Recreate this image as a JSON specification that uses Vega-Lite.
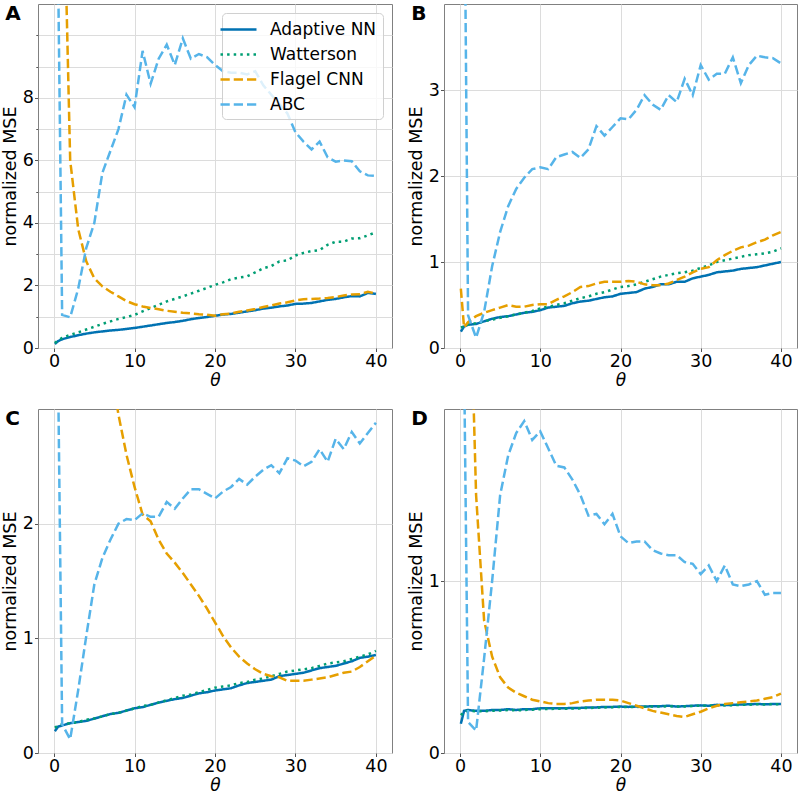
{
  "$schema": "https://vega.github.io/schema/vega-lite/v6.json",
  "padding": {"left": 0, "top": 3, "right": 0, "bottom": 0},
  "background": "white",
  "datasets": {
    "A": [
      {"t":0.1,"Adaptive NN":0.13,"Watterson":0.16,"Flagel CNN":80,"ABC":60},
      {"t":0.5,"Adaptive NN":0.22,"Watterson":0.25,"Flagel CNN":40,"ABC":12},
      {"t":1,"Adaptive NN":0.28,"Watterson":0.32,"Flagel CNN":17,"ABC":1.06},
      {"t":2,"Adaptive NN":0.35,"Watterson":0.42,"Flagel CNN":6.0,"ABC":0.98},
      {"t":3,"Adaptive NN":0.41,"Watterson":0.5,"Flagel CNN":3.8,"ABC":1.9},
      {"t":4,"Adaptive NN":0.46,"Watterson":0.59,"Flagel CNN":2.77,"ABC":3.2},
      {"t":5,"Adaptive NN":0.5,"Watterson":0.68,"Flagel CNN":2.23,"ABC":4.0},
      {"t":6,"Adaptive NN":0.53,"Watterson":0.77,"Flagel CNN":1.97,"ABC":5.6},
      {"t":7,"Adaptive NN":0.56,"Watterson":0.85,"Flagel CNN":1.8,"ABC":6.3},
      {"t":8,"Adaptive NN":0.58,"Watterson":0.93,"Flagel CNN":1.65,"ABC":7.0},
      {"t":9,"Adaptive NN":0.61,"Watterson":0.99,"Flagel CNN":1.5,"ABC":8.1},
      {"t":10,"Adaptive NN":0.64,"Watterson":1.06,"Flagel CNN":1.4,"ABC":7.7},
      {"t":11,"Adaptive NN":0.68,"Watterson":1.17,"Flagel CNN":1.33,"ABC":9.5},
      {"t":12,"Adaptive NN":0.72,"Watterson":1.28,"Flagel CNN":1.28,"ABC":8.45},
      {"t":13,"Adaptive NN":0.76,"Watterson":1.38,"Flagel CNN":1.24,"ABC":9.25},
      {"t":14,"Adaptive NN":0.8,"Watterson":1.49,"Flagel CNN":1.19,"ABC":9.7},
      {"t":15,"Adaptive NN":0.83,"Watterson":1.57,"Flagel CNN":1.16,"ABC":9.05},
      {"t":16,"Adaptive NN":0.87,"Watterson":1.65,"Flagel CNN":1.13,"ABC":9.9},
      {"t":17,"Adaptive NN":0.92,"Watterson":1.74,"Flagel CNN":1.11,"ABC":9.25},
      {"t":18,"Adaptive NN":0.96,"Watterson":1.83,"Flagel CNN":1.08,"ABC":9.4},
      {"t":19,"Adaptive NN":0.99,"Watterson":1.92,"Flagel CNN":1.06,"ABC":9.3},
      {"t":20,"Adaptive NN":1.03,"Watterson":2.02,"Flagel CNN":1.03,"ABC":9.05},
      {"t":21,"Adaptive NN":1.07,"Watterson":2.1,"Flagel CNN":1.08,"ABC":8.85},
      {"t":22,"Adaptive NN":1.09,"Watterson":2.2,"Flagel CNN":1.1,"ABC":8.8},
      {"t":23,"Adaptive NN":1.13,"Watterson":2.25,"Flagel CNN":1.16,"ABC":8.8},
      {"t":24,"Adaptive NN":1.17,"Watterson":2.29,"Flagel CNN":1.2,"ABC":8.75},
      {"t":25,"Adaptive NN":1.21,"Watterson":2.42,"Flagel CNN":1.25,"ABC":8.85},
      {"t":26,"Adaptive NN":1.26,"Watterson":2.55,"Flagel CNN":1.31,"ABC":8.4},
      {"t":27,"Adaptive NN":1.29,"Watterson":2.62,"Flagel CNN":1.36,"ABC":8.1},
      {"t":28,"Adaptive NN":1.33,"Watterson":2.77,"Flagel CNN":1.42,"ABC":7.8},
      {"t":29,"Adaptive NN":1.36,"Watterson":2.8,"Flagel CNN":1.46,"ABC":7.5},
      {"t":30,"Adaptive NN":1.41,"Watterson":2.96,"Flagel CNN":1.52,"ABC":6.9},
      {"t":31,"Adaptive NN":1.42,"Watterson":3.04,"Flagel CNN":1.56,"ABC":6.6},
      {"t":32,"Adaptive NN":1.44,"Watterson":3.1,"Flagel CNN":1.57,"ABC":6.35},
      {"t":33,"Adaptive NN":1.49,"Watterson":3.13,"Flagel CNN":1.58,"ABC":6.6},
      {"t":34,"Adaptive NN":1.54,"Watterson":3.3,"Flagel CNN":1.6,"ABC":6.1},
      {"t":35,"Adaptive NN":1.57,"Watterson":3.4,"Flagel CNN":1.63,"ABC":5.96},
      {"t":36,"Adaptive NN":1.62,"Watterson":3.4,"Flagel CNN":1.68,"ABC":6.0},
      {"t":37,"Adaptive NN":1.66,"Watterson":3.5,"Flagel CNN":1.71,"ABC":5.97},
      {"t":38,"Adaptive NN":1.65,"Watterson":3.51,"Flagel CNN":1.72,"ABC":5.65},
      {"t":39,"Adaptive NN":1.76,"Watterson":3.6,"Flagel CNN":1.8,"ABC":5.52},
      {"t":40,"Adaptive NN":1.73,"Watterson":3.7,"Flagel CNN":1.74,"ABC":5.5}
    ],
    "B": [
      {"t":0.1,"Adaptive NN":0.19,"Watterson":0.24,"Flagel CNN":0.69,"ABC":50},
      {"t":0.5,"Adaptive NN":0.25,"Watterson":0.25,"Flagel CNN":0.24,"ABC":6},
      {"t":1,"Adaptive NN":0.27,"Watterson":0.27,"Flagel CNN":0.3,"ABC":0.38},
      {"t":2,"Adaptive NN":0.28,"Watterson":0.29,"Flagel CNN":0.37,"ABC":0.12},
      {"t":3,"Adaptive NN":0.31,"Watterson":0.31,"Flagel CNN":0.41,"ABC":0.42},
      {"t":4,"Adaptive NN":0.34,"Watterson":0.33,"Flagel CNN":0.44,"ABC":0.95},
      {"t":5,"Adaptive NN":0.36,"Watterson":0.35,"Flagel CNN":0.47,"ABC":1.35},
      {"t":6,"Adaptive NN":0.37,"Watterson":0.37,"Flagel CNN":0.5,"ABC":1.65},
      {"t":7,"Adaptive NN":0.39,"Watterson":0.39,"Flagel CNN":0.48,"ABC":1.85},
      {"t":8,"Adaptive NN":0.41,"Watterson":0.41,"Flagel CNN":0.48,"ABC":1.98},
      {"t":9,"Adaptive NN":0.42,"Watterson":0.43,"Flagel CNN":0.5,"ABC":2.08},
      {"t":10,"Adaptive NN":0.44,"Watterson":0.46,"Flagel CNN":0.51,"ABC":2.1},
      {"t":11,"Adaptive NN":0.47,"Watterson":0.48,"Flagel CNN":0.51,"ABC":2.08},
      {"t":12,"Adaptive NN":0.48,"Watterson":0.5,"Flagel CNN":0.56,"ABC":2.22},
      {"t":13,"Adaptive NN":0.49,"Watterson":0.52,"Flagel CNN":0.6,"ABC":2.25},
      {"t":14,"Adaptive NN":0.52,"Watterson":0.55,"Flagel CNN":0.65,"ABC":2.28},
      {"t":15,"Adaptive NN":0.54,"Watterson":0.58,"Flagel CNN":0.71,"ABC":2.21},
      {"t":16,"Adaptive NN":0.55,"Watterson":0.6,"Flagel CNN":0.72,"ABC":2.31},
      {"t":17,"Adaptive NN":0.57,"Watterson":0.63,"Flagel CNN":0.75,"ABC":2.58},
      {"t":18,"Adaptive NN":0.59,"Watterson":0.65,"Flagel CNN":0.77,"ABC":2.47},
      {"t":19,"Adaptive NN":0.6,"Watterson":0.68,"Flagel CNN":0.77,"ABC":2.57},
      {"t":20,"Adaptive NN":0.63,"Watterson":0.71,"Flagel CNN":0.77,"ABC":2.67},
      {"t":21,"Adaptive NN":0.64,"Watterson":0.72,"Flagel CNN":0.78,"ABC":2.66},
      {"t":22,"Adaptive NN":0.65,"Watterson":0.74,"Flagel CNN":0.77,"ABC":2.77},
      {"t":23,"Adaptive NN":0.69,"Watterson":0.77,"Flagel CNN":0.74,"ABC":2.94},
      {"t":24,"Adaptive NN":0.71,"Watterson":0.8,"Flagel CNN":0.73,"ABC":2.83},
      {"t":25,"Adaptive NN":0.74,"Watterson":0.83,"Flagel CNN":0.73,"ABC":2.77},
      {"t":26,"Adaptive NN":0.74,"Watterson":0.85,"Flagel CNN":0.75,"ABC":2.94},
      {"t":27,"Adaptive NN":0.77,"Watterson":0.87,"Flagel CNN":0.79,"ABC":2.86},
      {"t":28,"Adaptive NN":0.77,"Watterson":0.88,"Flagel CNN":0.83,"ABC":3.13},
      {"t":29,"Adaptive NN":0.81,"Watterson":0.9,"Flagel CNN":0.88,"ABC":2.94},
      {"t":30,"Adaptive NN":0.83,"Watterson":0.93,"Flagel CNN":0.92,"ABC":3.29},
      {"t":31,"Adaptive NN":0.85,"Watterson":0.96,"Flagel CNN":0.94,"ABC":3.12},
      {"t":32,"Adaptive NN":0.88,"Watterson":1.0,"Flagel CNN":1.02,"ABC":3.19},
      {"t":33,"Adaptive NN":0.89,"Watterson":1.02,"Flagel CNN":1.08,"ABC":3.19},
      {"t":34,"Adaptive NN":0.9,"Watterson":1.04,"Flagel CNN":1.13,"ABC":3.38},
      {"t":35,"Adaptive NN":0.92,"Watterson":1.06,"Flagel CNN":1.17,"ABC":3.08},
      {"t":36,"Adaptive NN":0.93,"Watterson":1.08,"Flagel CNN":1.19,"ABC":3.29},
      {"t":37,"Adaptive NN":0.94,"Watterson":1.09,"Flagel CNN":1.23,"ABC":3.4},
      {"t":38,"Adaptive NN":0.96,"Watterson":1.1,"Flagel CNN":1.26,"ABC":3.38},
      {"t":39,"Adaptive NN":0.98,"Watterson":1.12,"Flagel CNN":1.31,"ABC":3.37},
      {"t":40,"Adaptive NN":1.0,"Watterson":1.16,"Flagel CNN":1.35,"ABC":3.31}
    ],
    "C": [
      {"t":0.1,"Adaptive NN":0.19,"Watterson":0.22,"Flagel CNN":40,"ABC":50},
      {"t":0.5,"Adaptive NN":0.23,"Watterson":0.24,"Flagel CNN":25,"ABC":3.3},
      {"t":1,"Adaptive NN":0.24,"Watterson":0.25,"Flagel CNN":15,"ABC":0.25},
      {"t":2,"Adaptive NN":0.26,"Watterson":0.26,"Flagel CNN":9,"ABC":0.12},
      {"t":3,"Adaptive NN":0.27,"Watterson":0.27,"Flagel CNN":6.5,"ABC":0.55},
      {"t":4,"Adaptive NN":0.28,"Watterson":0.29,"Flagel CNN":5,"ABC":1.02},
      {"t":5,"Adaptive NN":0.3,"Watterson":0.3,"Flagel CNN":4.2,"ABC":1.47},
      {"t":6,"Adaptive NN":0.32,"Watterson":0.32,"Flagel CNN":3.8,"ABC":1.7},
      {"t":7,"Adaptive NN":0.34,"Watterson":0.34,"Flagel CNN":3.4,"ABC":1.86},
      {"t":8,"Adaptive NN":0.35,"Watterson":0.35,"Flagel CNN":2.95,"ABC":2.0},
      {"t":9,"Adaptive NN":0.37,"Watterson":0.37,"Flagel CNN":2.6,"ABC":2.04},
      {"t":10,"Adaptive NN":0.39,"Watterson":0.39,"Flagel CNN":2.32,"ABC":2.03},
      {"t":11,"Adaptive NN":0.4,"Watterson":0.41,"Flagel CNN":2.08,"ABC":2.09},
      {"t":12,"Adaptive NN":0.42,"Watterson":0.42,"Flagel CNN":2.02,"ABC":2.06},
      {"t":13,"Adaptive NN":0.44,"Watterson":0.44,"Flagel CNN":1.86,"ABC":2.06},
      {"t":14,"Adaptive NN":0.455,"Watterson":0.46,"Flagel CNN":1.74,"ABC":2.19},
      {"t":15,"Adaptive NN":0.47,"Watterson":0.48,"Flagel CNN":1.66,"ABC":2.13},
      {"t":16,"Adaptive NN":0.48,"Watterson":0.5,"Flagel CNN":1.57,"ABC":2.22},
      {"t":17,"Adaptive NN":0.5,"Watterson":0.51,"Flagel CNN":1.47,"ABC":2.3},
      {"t":18,"Adaptive NN":0.52,"Watterson":0.53,"Flagel CNN":1.37,"ABC":2.3},
      {"t":19,"Adaptive NN":0.53,"Watterson":0.55,"Flagel CNN":1.26,"ABC":2.26},
      {"t":20,"Adaptive NN":0.545,"Watterson":0.57,"Flagel CNN":1.14,"ABC":2.22},
      {"t":21,"Adaptive NN":0.555,"Watterson":0.58,"Flagel CNN":1.02,"ABC":2.28},
      {"t":22,"Adaptive NN":0.565,"Watterson":0.59,"Flagel CNN":0.92,"ABC":2.32},
      {"t":23,"Adaptive NN":0.59,"Watterson":0.61,"Flagel CNN":0.84,"ABC":2.39},
      {"t":24,"Adaptive NN":0.61,"Watterson":0.62,"Flagel CNN":0.78,"ABC":2.34},
      {"t":25,"Adaptive NN":0.62,"Watterson":0.64,"Flagel CNN":0.73,"ABC":2.41},
      {"t":26,"Adaptive NN":0.63,"Watterson":0.65,"Flagel CNN":0.69,"ABC":2.47},
      {"t":27,"Adaptive NN":0.64,"Watterson":0.67,"Flagel CNN":0.67,"ABC":2.51},
      {"t":28,"Adaptive NN":0.67,"Watterson":0.69,"Flagel CNN":0.66,"ABC":2.44},
      {"t":29,"Adaptive NN":0.68,"Watterson":0.71,"Flagel CNN":0.63,"ABC":2.57},
      {"t":30,"Adaptive NN":0.69,"Watterson":0.72,"Flagel CNN":0.63,"ABC":2.55},
      {"t":31,"Adaptive NN":0.7,"Watterson":0.73,"Flagel CNN":0.63,"ABC":2.5},
      {"t":32,"Adaptive NN":0.72,"Watterson":0.74,"Flagel CNN":0.64,"ABC":2.54},
      {"t":33,"Adaptive NN":0.74,"Watterson":0.76,"Flagel CNN":0.65,"ABC":2.65},
      {"t":34,"Adaptive NN":0.75,"Watterson":0.78,"Flagel CNN":0.66,"ABC":2.54},
      {"t":35,"Adaptive NN":0.76,"Watterson":0.79,"Flagel CNN":0.68,"ABC":2.74},
      {"t":36,"Adaptive NN":0.78,"Watterson":0.8,"Flagel CNN":0.7,"ABC":2.65},
      {"t":37,"Adaptive NN":0.8,"Watterson":0.82,"Flagel CNN":0.71,"ABC":2.8},
      {"t":38,"Adaptive NN":0.83,"Watterson":0.84,"Flagel CNN":0.75,"ABC":2.7},
      {"t":39,"Adaptive NN":0.84,"Watterson":0.86,"Flagel CNN":0.8,"ABC":2.79},
      {"t":40,"Adaptive NN":0.855,"Watterson":0.89,"Flagel CNN":0.85,"ABC":2.88}
    ],
    "D": [
      {"t":0.1,"Adaptive NN":0.17,"Watterson":0.22,"Flagel CNN":20,"ABC":40},
      {"t":0.5,"Adaptive NN":0.245,"Watterson":0.24,"Flagel CNN":8,"ABC":2.3},
      {"t":1,"Adaptive NN":0.25,"Watterson":0.245,"Flagel CNN":3.2,"ABC":0.18},
      {"t":2,"Adaptive NN":0.245,"Watterson":0.243,"Flagel CNN":1.5,"ABC":0.13},
      {"t":3,"Adaptive NN":0.245,"Watterson":0.243,"Flagel CNN":0.77,"ABC":0.55},
      {"t":4,"Adaptive NN":0.25,"Watterson":0.245,"Flagel CNN":0.56,"ABC":1.0},
      {"t":5,"Adaptive NN":0.25,"Watterson":0.247,"Flagel CNN":0.44,"ABC":1.5},
      {"t":6,"Adaptive NN":0.255,"Watterson":0.25,"Flagel CNN":0.38,"ABC":1.73},
      {"t":7,"Adaptive NN":0.25,"Watterson":0.248,"Flagel CNN":0.35,"ABC":1.86},
      {"t":8,"Adaptive NN":0.255,"Watterson":0.25,"Flagel CNN":0.33,"ABC":1.93},
      {"t":9,"Adaptive NN":0.255,"Watterson":0.252,"Flagel CNN":0.31,"ABC":1.82},
      {"t":10,"Adaptive NN":0.26,"Watterson":0.255,"Flagel CNN":0.3,"ABC":1.87},
      {"t":11,"Adaptive NN":0.26,"Watterson":0.256,"Flagel CNN":0.29,"ABC":1.77},
      {"t":12,"Adaptive NN":0.26,"Watterson":0.257,"Flagel CNN":0.285,"ABC":1.67},
      {"t":13,"Adaptive NN":0.26,"Watterson":0.257,"Flagel CNN":0.285,"ABC":1.66},
      {"t":14,"Adaptive NN":0.262,"Watterson":0.258,"Flagel CNN":0.29,"ABC":1.59},
      {"t":15,"Adaptive NN":0.262,"Watterson":0.26,"Flagel CNN":0.3,"ABC":1.5},
      {"t":16,"Adaptive NN":0.265,"Watterson":0.262,"Flagel CNN":0.305,"ABC":1.38},
      {"t":17,"Adaptive NN":0.265,"Watterson":0.263,"Flagel CNN":0.31,"ABC":1.39},
      {"t":18,"Adaptive NN":0.268,"Watterson":0.265,"Flagel CNN":0.31,"ABC":1.33},
      {"t":19,"Adaptive NN":0.268,"Watterson":0.266,"Flagel CNN":0.31,"ABC":1.39},
      {"t":20,"Adaptive NN":0.27,"Watterson":0.268,"Flagel CNN":0.305,"ABC":1.26},
      {"t":21,"Adaptive NN":0.268,"Watterson":0.267,"Flagel CNN":0.29,"ABC":1.22},
      {"t":22,"Adaptive NN":0.27,"Watterson":0.268,"Flagel CNN":0.275,"ABC":1.23},
      {"t":23,"Adaptive NN":0.27,"Watterson":0.269,"Flagel CNN":0.26,"ABC":1.23},
      {"t":24,"Adaptive NN":0.272,"Watterson":0.27,"Flagel CNN":0.245,"ABC":1.18},
      {"t":25,"Adaptive NN":0.272,"Watterson":0.27,"Flagel CNN":0.235,"ABC":1.16},
      {"t":26,"Adaptive NN":0.275,"Watterson":0.272,"Flagel CNN":0.225,"ABC":1.15},
      {"t":27,"Adaptive NN":0.27,"Watterson":0.27,"Flagel CNN":0.215,"ABC":1.15},
      {"t":28,"Adaptive NN":0.272,"Watterson":0.271,"Flagel CNN":0.21,"ABC":1.11},
      {"t":29,"Adaptive NN":0.275,"Watterson":0.273,"Flagel CNN":0.225,"ABC":1.1},
      {"t":30,"Adaptive NN":0.277,"Watterson":0.275,"Flagel CNN":0.24,"ABC":1.04},
      {"t":31,"Adaptive NN":0.275,"Watterson":0.275,"Flagel CNN":0.26,"ABC":1.09},
      {"t":32,"Adaptive NN":0.28,"Watterson":0.277,"Flagel CNN":0.275,"ABC":1.0},
      {"t":33,"Adaptive NN":0.278,"Watterson":0.277,"Flagel CNN":0.285,"ABC":1.09},
      {"t":34,"Adaptive NN":0.28,"Watterson":0.278,"Flagel CNN":0.29,"ABC":0.98},
      {"t":35,"Adaptive NN":0.282,"Watterson":0.28,"Flagel CNN":0.295,"ABC":0.97},
      {"t":36,"Adaptive NN":0.283,"Watterson":0.281,"Flagel CNN":0.3,"ABC":0.98},
      {"t":37,"Adaptive NN":0.285,"Watterson":0.283,"Flagel CNN":0.305,"ABC":1.0},
      {"t":38,"Adaptive NN":0.283,"Watterson":0.282,"Flagel CNN":0.315,"ABC":0.92},
      {"t":39,"Adaptive NN":0.285,"Watterson":0.284,"Flagel CNN":0.325,"ABC":0.93},
      {"t":40,"Adaptive NN":0.285,"Watterson":0.284,"Flagel CNN":0.345,"ABC":0.93}
    ]
  },
  "spacing": 19,
  "vconcat": [
    {
      "spacing": 13,
      "hconcat": [
        {
          "data": {"name": "A"},
          "transform": [{"fold": ["Adaptive NN", "Watterson", "Flagel CNN", "ABC"], "as": ["method", "mse"]}],
          "width": 354, "height": 344,
          "title": {"text": "A", "anchor": "start", "frame": "bounds", "offset": -20, "dx": 4, "fontSize": 20, "fontWeight": "bold", "font": "DejaVu Sans", "color": "#000"},
          "mark": {"type": "line", "clip": true, "strokeWidth": 2.5},
          "encoding": {
            "x": {"field": "t", "type": "quantitative", "scale": {"domain": [-2, 42], "nice": false, "zero": false}, "axis": {"values": [0, 10, 20, 30, 40], "title": "θ", "titleFontStyle": "italic", "titleFontSize": 17}},
            "y": {"field": "mse", "type": "quantitative", "scale": {"domain": [0, 11], "nice": false}, "axis": {"values": [0, 1, 2, 3, 4, 5, 6, 7, 8, 9, 10], "labelExpr": "(datum.value % 2 == 0 && datum.value <= 8) ? datum.label : ''", "tickSize": {"condition": {"test": "datum.value % 2 == 0 && datum.value <= 8", "value": 3.5}, "value": 2.2}, "title": "normalized MSE"}},
            "color": {"field": "method", "type": "nominal", "scale": {"domain": ["Adaptive NN", "Watterson", "Flagel CNN", "ABC"], "range": ["#0072B2", "#009E73", "#E69F00", "#56B4E9"]},
              "legend": {"title": null, "orient": "top-right", "offset": 9, "symbolType": "M-2,0H2", "symbolSize": 324, "symbolStrokeWidth": 2.5, "labelFontSize": 17, "labelFont": "DejaVu Sans", "labelColor": "#000", "fillColor": "rgba(255,255,255,0.8)", "strokeColor": "#d0d0d0", "cornerRadius": 4, "padding": 6, "rowPadding": 6, "labelOffset": 21}},
            "strokeDash": {"field": "method", "type": "nominal", "scale": {"domain": ["Adaptive NN", "Watterson", "Flagel CNN", "ABC"], "range": [[1, 0], [2.5, 4.1], [9.25, 4], [9.25, 4]]},
              "legend": {"title": null, "orient": "top-right", "offset": 9, "symbolType": "M-2,0H2", "symbolSize": 324, "symbolStrokeWidth": 2.5, "labelFontSize": 17, "labelFont": "DejaVu Sans", "labelColor": "#000", "fillColor": "rgba(255,255,255,0.8)", "strokeColor": "#d0d0d0", "cornerRadius": 4, "padding": 6, "rowPadding": 6, "labelOffset": 21}}
          }
        },
        {
          "data": {"name": "B"},
          "transform": [{"fold": ["Adaptive NN", "Watterson", "Flagel CNN", "ABC"], "as": ["method", "mse"]}],
          "width": 353, "height": 344,
          "title": {"text": "B", "anchor": "start", "frame": "bounds", "offset": -20, "dx": 4, "fontSize": 20, "fontWeight": "bold", "font": "DejaVu Sans", "color": "#000"},
          "mark": {"type": "line", "clip": true, "strokeWidth": 2.5},
          "encoding": {
            "x": {"field": "t", "type": "quantitative", "scale": {"domain": [-2, 42], "nice": false, "zero": false}, "axis": {"values": [0, 10, 20, 30, 40], "title": "θ", "titleFontStyle": "italic", "titleFontSize": 17}},
            "y": {"field": "mse", "type": "quantitative", "scale": {"domain": [0, 4], "nice": false}, "axis": {"values": [0, 1, 2, 3], "title": "normalized MSE"}},
            "color": {"field": "method", "type": "nominal", "scale": {"domain": ["Adaptive NN", "Watterson", "Flagel CNN", "ABC"], "range": ["#0072B2", "#009E73", "#E69F00", "#56B4E9"]}, "legend": null},
            "strokeDash": {"field": "method", "type": "nominal", "scale": {"domain": ["Adaptive NN", "Watterson", "Flagel CNN", "ABC"], "range": [[1, 0], [2.5, 4.1], [9.25, 4], [9.25, 4]]}, "legend": null}
          }
        }
      ],
      "resolve": {"scale": {"color": "independent", "strokeDash": "independent", "y": "independent"}}
    },
    {
      "spacing": 13,
      "hconcat": [
        {
          "data": {"name": "C"},
          "transform": [{"fold": ["Adaptive NN", "Watterson", "Flagel CNN", "ABC"], "as": ["method", "mse"]}],
          "width": 354, "height": 344,
          "title": {"text": "C", "anchor": "start", "frame": "bounds", "offset": -20, "dx": 4, "fontSize": 20, "fontWeight": "bold", "font": "DejaVu Sans", "color": "#000"},
          "mark": {"type": "line", "clip": true, "strokeWidth": 2.5},
          "encoding": {
            "x": {"field": "t", "type": "quantitative", "scale": {"domain": [-2, 42], "nice": false, "zero": false}, "axis": {"values": [0, 10, 20, 30, 40], "title": "θ", "titleFontStyle": "italic", "titleFontSize": 17}},
            "y": {"field": "mse", "type": "quantitative", "scale": {"domain": [0, 3], "nice": false}, "axis": {"values": [0, 1, 2], "title": "normalized MSE"}},
            "color": {"field": "method", "type": "nominal", "scale": {"domain": ["Adaptive NN", "Watterson", "Flagel CNN", "ABC"], "range": ["#0072B2", "#009E73", "#E69F00", "#56B4E9"]}, "legend": null},
            "strokeDash": {"field": "method", "type": "nominal", "scale": {"domain": ["Adaptive NN", "Watterson", "Flagel CNN", "ABC"], "range": [[1, 0], [2.5, 4.1], [9.25, 4], [9.25, 4]]}, "legend": null}
          }
        },
        {
          "data": {"name": "D"},
          "transform": [{"fold": ["Adaptive NN", "Watterson", "Flagel CNN", "ABC"], "as": ["method", "mse"]}],
          "width": 353, "height": 344,
          "title": {"text": "D", "anchor": "start", "frame": "bounds", "offset": -20, "dx": 4, "fontSize": 20, "fontWeight": "bold", "font": "DejaVu Sans", "color": "#000"},
          "mark": {"type": "line", "clip": true, "strokeWidth": 2.5},
          "encoding": {
            "x": {"field": "t", "type": "quantitative", "scale": {"domain": [-2, 42], "nice": false, "zero": false}, "axis": {"values": [0, 10, 20, 30, 40], "title": "θ", "titleFontStyle": "italic", "titleFontSize": 17}},
            "y": {"field": "mse", "type": "quantitative", "scale": {"domain": [0, 2], "nice": false}, "axis": {"values": [0, 1], "title": "normalized MSE"}},
            "color": {"field": "method", "type": "nominal", "scale": {"domain": ["Adaptive NN", "Watterson", "Flagel CNN", "ABC"], "range": ["#0072B2", "#009E73", "#E69F00", "#56B4E9"]}, "legend": null},
            "strokeDash": {"field": "method", "type": "nominal", "scale": {"domain": ["Adaptive NN", "Watterson", "Flagel CNN", "ABC"], "range": [[1, 0], [2.5, 4.1], [9.25, 4], [9.25, 4]]}, "legend": null}
          }
        }
      ],
      "resolve": {"scale": {"color": "independent", "strokeDash": "independent", "y": "independent"}}
    }
  ],
  "resolve": {"scale": {"color": "independent", "strokeDash": "independent", "y": "independent"}},
  "config": {
    "font": "DejaVu Sans",
    "view": {"stroke": "#808080", "strokeWidth": 1},
    "axis": {"labelFont": "DejaVu Sans", "labelFontSize": 17.5, "labelColor": "#000", "titleFont": "DejaVu Sans", "titleFontSize": 17.5, "titleFontWeight": "normal", "titleColor": "#000", "gridColor": "#dcdcdc", "gridWidth": 1, "tickColor": "#555", "tickSize": 3.5, "domain": false, "labelPadding": 1},
    "axisX": {"titlePadding": 2},
    "axisY": {"titlePadding": 3}
  }
}
